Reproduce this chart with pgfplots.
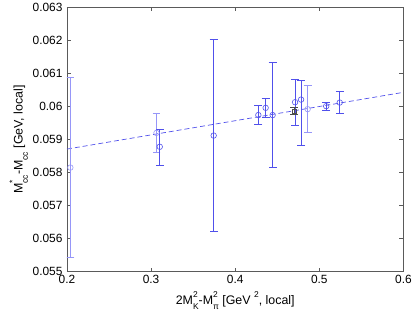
\documentclass[border=0pt]{standalone}
\usepackage{fontspec}
\setmainfont{Liberation Sans}
\usepackage{pgfplots}
\pgfplotsset{compat=1.18}
\definecolor{mblue}{RGB}{80,80,235}
\definecolor{lblue}{RGB}{150,150,248}
\definecolor{axgray}{RGB}{90,90,90}
\newcommand\fs{\fontsize{12}{14}\selectfont}
\newcommand\fl{\fontsize{12.5}{14}\selectfont}
\newcommand\scr{\fontsize{8.5}{9}\selectfont}
\newcommand\supsub[2]{\rlap{\raisebox{0.58em}{\scr #1}}\raisebox{-0.42em}{\scr #2}}
\begin{document}
\begin{tikzpicture}
\begin{axis}[
  scale only axis,
  width=339pt, height=266pt,
  xmin=0.2, xmax=0.6, ymin=0.055, ymax=0.063,
  xtick={0.2,0.3,0.4,0.5,0.6},
  ytick={0.055,0.056,0.057,0.058,0.059,0.06,0.061,0.062,0.063},
  tick pos=both, tick align=inside,
  major tick length=4pt,
  axis line style={axgray, line width=0.6pt},
  tick style={axgray, line width=0.5pt},
  /pgf/number format/assume math mode=true,
  tick label style={font=\fs},
  label style={font=\fl},
  yticklabel style={/pgf/number format/fixed, /pgf/number format/precision=3, xshift=-1pt},
  xticklabel style={/pgf/number format/fixed, /pgf/number format/precision=1},
  scaled y ticks=false, scaled x ticks=false,
  ylabel={M\supsub{*}{cc}-M\raisebox{-0.42em}{\scr cc} [GeV, local]},
  xlabel={2M\supsub{2}{K}-M\supsub{2}{π} [GeV \raisebox{0.58em}{\scr 2}, local]},
  ylabel style={yshift=-2pt},
  xlabel style={yshift=-1pt},
]
% fit line
\addplot[mblue, dashed, dash pattern=on 5pt off 3pt, line width=0.7pt] coordinates {(0.2,0.05871) (0.6,0.06043)};
% light blue points
\addplot[lblue, only marks, mark=o, mark size=2.8pt, mark options={line width=0.6pt, fill=none},
  error bars/.cd, y dir=both, y explicit,
  error bar style={lblue, line width=0.8pt},
  error mark options={lblue, rotate=90, mark size=4pt, line width=0.8pt}] coordinates {
  (0.2040,0.05815) +- (0,0.00273)
  (0.3064,0.05920) +- (0,0.00060)
  (0.4861,0.05992) +- (0,0.00071)
};
% medium blue points
\addplot[mblue, only marks, mark=o, mark size=2.8pt, mark options={line width=0.6pt, fill=none},
  error bars/.cd, y dir=both, y explicit,
  error bar style={mblue, line width=0.8pt},
  error mark options={mblue, rotate=90, mark size=4pt, line width=0.8pt}] coordinates {
  (0.3103,0.05878) += (0,0.00053) -= (0,0.00055)
  (0.3744,0.05912) += (0,0.00290) -= (0,0.00290)
  (0.4275,0.05974) += (0,0.00029) -= (0,0.00028)
  (0.4362,0.05996) += (0,0.00030) -= (0,0.00029)
  (0.4445,0.05974) += (0,0.00161) -= (0,0.00160)
  (0.4712,0.06013) += (0,0.00070) -= (0,0.00070)
  (0.4783,0.06021) += (0,0.00059) -= (0,0.00140)
  (0.5082,0.06001) += (0,0.00011) -= (0,0.00012)
  (0.5243,0.06012) += (0,0.00034) -= (0,0.00034)
};
% black point
\addplot[black!70, only marks, mark=square, mark size=2pt, mark options={line width=0.6pt, fill=none},
  error bars/.cd, y dir=both, y explicit,
  error bar style={black!70, line width=0.8pt},
  error mark options={black!70, rotate=90, mark size=4pt, line width=0.8pt}] coordinates {
  (0.4700,0.05986) +- (0,0.00010)
};
\end{axis}
\useasboundingbox (current axis.south west) ++(-67.5pt,-45.3pt) rectangle ++(415pt,318pt);
\end{tikzpicture}
\end{document}
